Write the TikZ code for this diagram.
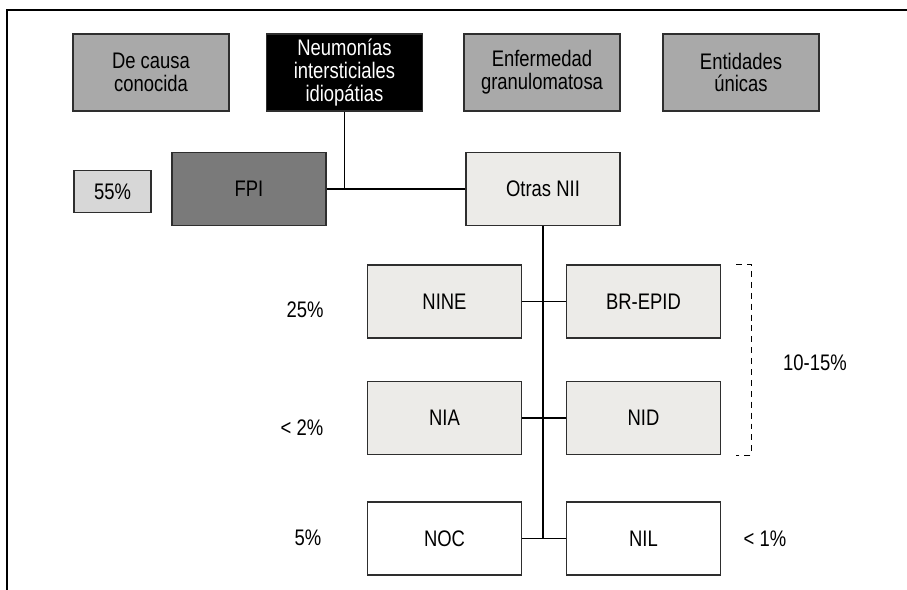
\documentclass[tikz,border=0pt]{standalone}
\usepackage{fontspec}
\setmainfont{Liberation Sans}[FakeStretch=0.82]
\usetikzlibrary{positioning}

\definecolor{grisM}{HTML}{A9A9A9}
\definecolor{grisO}{HTML}{7A7A7A}
\definecolor{grisC}{HTML}{D7D7D7}
\definecolor{grisL}{HTML}{ECEBE8}
\definecolor{borde}{HTML}{2E2E2E}

\tikzset{
  caja/.style={draw=borde,line width=0.9pt,minimum width=3.08cm,minimum height=1.46cm,
    align=center,inner sep=0pt,font=\fontsize{12.8}{13.0}\selectfont},
  cajasup/.style={caja,minimum width=3.12cm,minimum height=1.54cm,fill=grisM},
  cajanii/.style={caja,fill=grisL},
  porc/.style={font=\fontsize{12.8}{13.0}\selectfont},
  linea/.style={draw=black,line width=0.7pt}
}

\begin{document}
\begin{tikzpicture}[x=0.02cm,y=-0.02cm]
  \useasboundingbox (0,0) rectangle (907,590);
  % marco
  \draw[line width=0.9pt] (907,10) -- (7,10) -- (7,590);
  % fila superior
  \node[cajasup] (causa) at (151,72.5) {De causa\\conocida};
  \node[cajasup,fill=black,text=white] (nii) at (344.5,72.5) {Neumonías\\intersticiales\\idiopátias};
  \node[cajasup] (granu) at (542,72.5) {Enfermedad\\granulomatosa};
  \node[cajasup] (unicas) at (741,72.5) {Entidades\\únicas};
  % FPI y otras
  \node[caja,fill=grisC,minimum width=1.54cm,minimum height=0.84cm] (p55) at (112.5,191.5) {55\%};
  \node[caja,fill=grisO] (fpi) at (249,189) {FPI};
  \node[cajanii] (otras) at (543,189) {Otras NII};
  % subtipos
  \node[cajanii] (nine) at (444.5,301.5) {NINE};
  \node[cajanii] (brepid) at (643.5,301.5) {BR-EPID};
  \node[cajanii] (nia) at (444.5,418) {NIA};
  \node[cajanii] (nid) at (643.5,418) {NID};
  \node[caja] (noc) at (444.5,538.5) {NOC};
  \node[caja] (nil) at (643.5,538.5) {NIL};
  % porcentajes
  \node[porc] (p25) at (305,310) {25\%};
  \node[porc] (p2) at (302,428) {< 2\%};
  \node[porc] (p5) at (308,538) {5\%};
  \node[porc] (p1) at (765,539) {< 1\%};
  \node[porc] (p10) at (815,363) {10-15\%};
  % conexiones
  \coordinate (j1) at (nii.south |- fpi.east);
  \coordinate (eje) at (otras.south |- noc.east);
  \draw[linea] (nii.south) -- (j1);
  \draw[linea] (fpi) -- (otras);
  \draw[linea] (otras.south) -- (eje);
  \draw[linea] (nine) -- (brepid);
  \draw[linea] (nia) -- (nid);
  \draw[linea] (noc) -- (nil);
  % corchete
  \draw[line width=0.8pt,dash pattern=on 3.4pt off 2.8pt]
    ([xshift=0.3cm]brepid.north east) -- ++(0.3cm,0) |- ([xshift=0.3cm]nid.south east);
\end{tikzpicture}
\end{document}
